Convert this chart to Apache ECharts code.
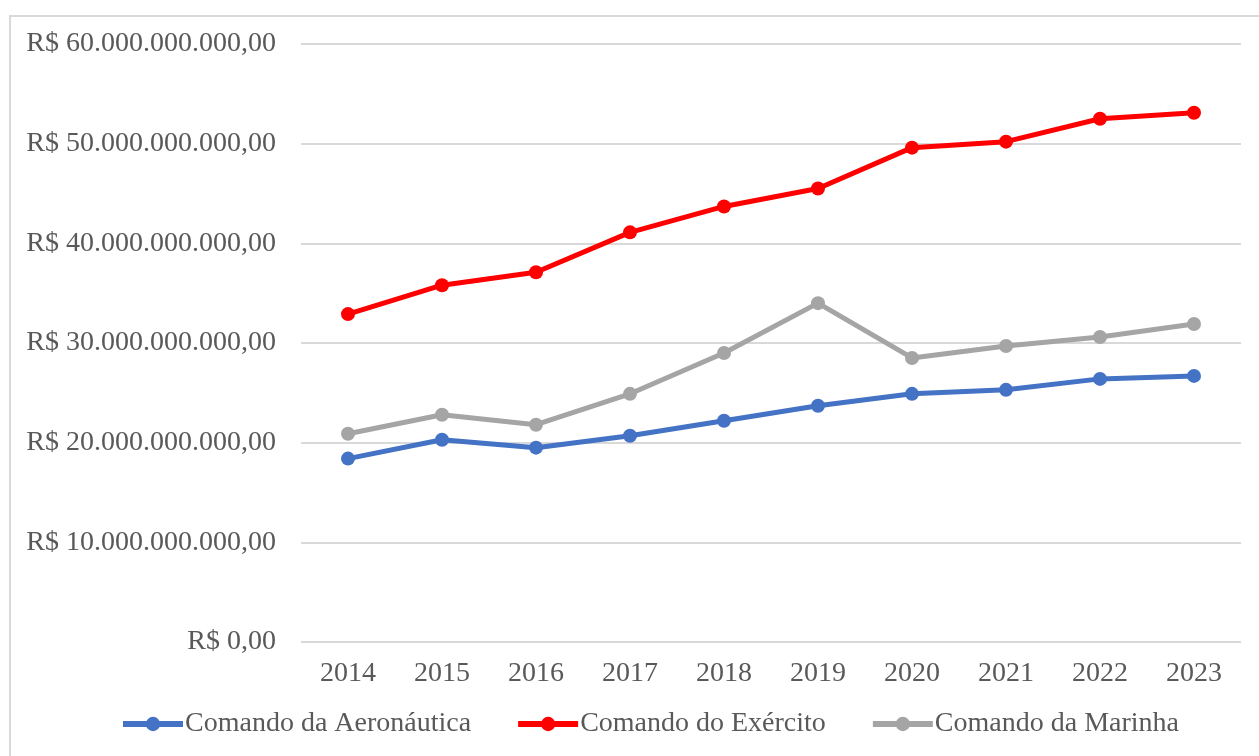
<!DOCTYPE html>
<html>
<head>
<meta charset="utf-8">
<script src="https://cdn.jsdelivr.net/npm/echarts@6/dist/echarts.min.js"></script>
<style>
  html, body { margin: 0; padding: 0; background: #fff; }
  #chart { width: 1259px; height: 756px; }
</style>
</head>
<body>
<div id="chart"></div>
<script>
// anos e valores (em bilhões de R$)
const anos = ['2014', '2015', '2016', '2017', '2018', '2019', '2020', '2021', '2022', '2023'];
const aeronautica = [18.4, 20.3, 19.5, 20.7, 22.2, 23.7, 24.9, 25.3, 26.4, 26.7];
const exercito = [32.9, 35.8, 37.1, 41.1, 43.7, 45.5, 49.6, 50.2, 52.5, 53.1];
const marinha = [20.9, 22.8, 21.8, 24.9, 29.0, 34.0, 28.5, 29.7, 30.6, 31.9];
const nomes = ['Comando da Aeronáutica', 'Comando do Exército', 'Comando da Marinha'];
const cores = ['#4472C4', '#FF0000', '#A5A5A5'];

const fonte = '"Liberation Serif", "Times New Roman", serif';

// 60 -> "R$ 60.000.000.000,00"
const formatarReais = (v) => {
  if (v === 0) return 'R$ 0,00';
  const inteiro = Math.round(v * 1e9).toString().replace(/\B(?=(\d{3})+(?!\d))/g, '.');
  return 'R$ ' + inteiro + ',00';
};

const myChart = echarts.init(document.getElementById('chart'));

const serie = (nome, dados, cor) => ({
  name: nome,
  type: 'line',
  data: dados,
  symbol: 'circle',
  symbolSize: 14,
  lineStyle: { color: cor, width: 5 },
  itemStyle: { color: cor },
  animation: false
});

const option = {
  backgroundColor: '#fff',
  graphic: [{
    type: 'rect',
    shape: { x: 10, y: 16, width: 1270, height: 760 },
    style: { fill: 'none', stroke: '#d9d9d9', lineWidth: 2 },
    silent: true
  }],
  grid: {
    left: 301,
    right: 18,
    top: 44,
    bottom: 114,
    containLabel: false
  },
  legend: {
    top: 710,
    left: 120,
    padding: 0,
    itemWidth: 60,
    itemHeight: 18,
    itemGap: 44,
    lineStyle: { width: 6 },
    textStyle: { fontFamily: fonte, fontSize: 28, color: '#595959', padding: [0, 0, 0, -3] },
    data: nomes
  },
  xAxis: {
    type: 'category',
    data: anos,
    boundaryGap: true,
    axisLine: { show: false },
    axisTick: { show: false },
    axisLabel: { fontFamily: fonte, fontSize: 28, color: '#595959', margin: 18 }
  },
  yAxis: {
    type: 'value',
    min: 0,
    max: 60,
    interval: 10,
    axisLine: { show: false },
    axisTick: { show: false },
    axisLabel: {
      fontFamily: fonte, fontSize: 28, color: '#595959', margin: 25,
      formatter: formatarReais
    },
    splitLine: { lineStyle: { color: '#d9d9d9', width: 2 } }
  },
  series: [
    serie(nomes[0], aeronautica, cores[0]),
    serie(nomes[1], exercito, cores[1]),
    serie(nomes[2], marinha, cores[2])
  ]
};

myChart.setOption(option);
</script>
</body>
</html>
